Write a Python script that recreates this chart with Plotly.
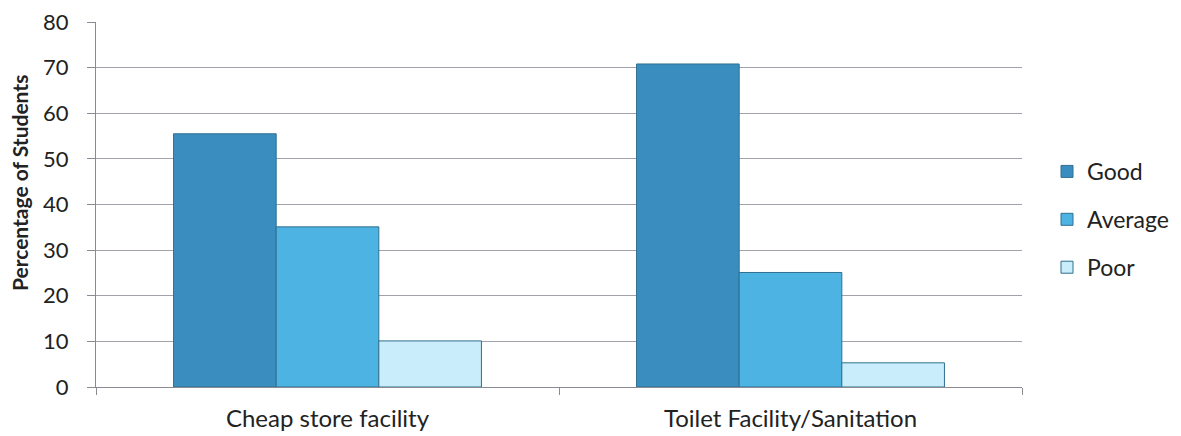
import plotly.graph_objects as go

categories = ["Cheap store facility", "Toilet Facility/Sanitation"]
series_names = ["Good", "Average", "Poor"]
good = [55.5, 70.8]
average = [35.1, 25.1]
poor = [10.1, 5.3]
y_ticks = [0, 10, 20, 30, 40, 50, 60, 70, 80]
y_title = "Percentage of Students"

colors = ["#3a8ebf", "#4cb3e3", "#c9edfa"]
values = [good, average, poor]

fig = go.Figure()
for name, vals, col in zip(series_names, values, colors):
    fig.add_trace(go.Bar(
        x=categories, y=vals, name=name, legendgroup=name,
        marker=dict(color=col, line=dict(color="#2f6f8f", width=1)),
    ))

font_family = "Lato, Open Sans, sans-serif"
fig.update_layout(
    width=1181, height=436,
    margin=dict(l=96, r=159, t=22, b=49, autoexpand=False),
    paper_bgcolor="white", plot_bgcolor="white",
    barmode="group", bargap=0.335, bargroupgap=0,
    font=dict(family=font_family, size=22, color="#222222"),
    legend=dict(x=1.027, y=0.459, yanchor="middle", xanchor="left",
                font=dict(size=23, color="#222222"), tracegroupgap=15,
                itemwidth=30),
    showlegend=True,
    xaxis=dict(
        showgrid=False, ticks="outside", tickson="boundaries", ticklen=7,
        tickcolor="#8a8a95", showline=True, linecolor="#8a8a95", linewidth=1,
        tickfont=dict(size=24, color="#222222"), automargin=False,
        ticklabelstandoff=10,
    ),
    yaxis=dict(
        range=[0, 80], tickvals=y_ticks, ticks="outside", ticklen=8,
        tickcolor="#8a8a95", showline=True, linecolor="#8a8a95", linewidth=1,
        gridcolor="#a2a2ab", gridwidth=1, zeroline=False,
        tickfont=dict(size=22, color="#222222"), automargin=False,
        ticklabelstandoff=14,
    ),
    annotations=[dict(
        text="<b>" + y_title + "</b>", textangle=-90,
        xref="paper", yref="paper", x=-0.082, y=0.559,
        xanchor="center", yanchor="middle", showarrow=False,
        font=dict(size=21, color="#222222"),
    )],
)

fig.write_html("out.html", config={"displayModeBar": False},
               post_script="document.body.style.margin='0';")
